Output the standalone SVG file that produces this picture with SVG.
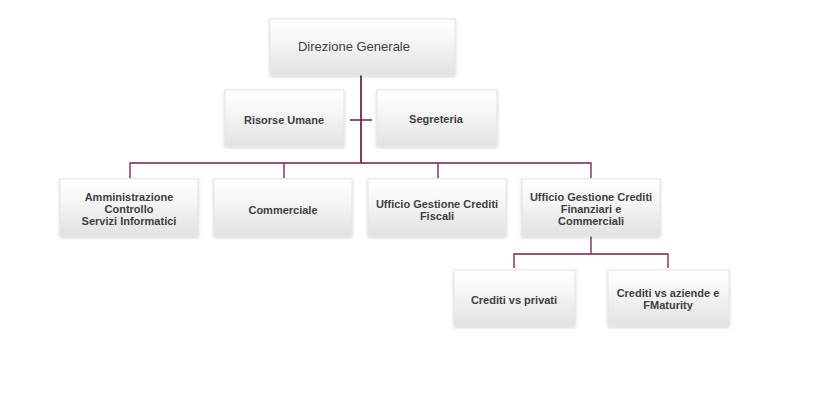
<svg xmlns="http://www.w3.org/2000/svg" width="830" height="411" viewBox="0 0 830 411">
<defs>
<linearGradient id="g" x1="0" y1="0" x2="0" y2="1"><stop offset="0" stop-color="#ffffff"/><stop offset="0.35" stop-color="#f7f7f7"/><stop offset="1" stop-color="#e2e2e2"/></linearGradient>
<filter id="s" x="-10%" y="-10%" width="120%" height="130%"><feDropShadow dx="0" dy="1" stdDeviation="1.5" flood-color="#000" flood-opacity="0.2"/></filter>
</defs>
<style>
.b{fill:url(#g);stroke:#e4e4e4;stroke-width:1;filter:url(#s)}
.t{font-family:"Liberation Sans",Arial,sans-serif;font-size:11px;font-weight:bold;fill:#404040;text-anchor:middle}
.c{stroke:#7a1c4c;stroke-width:1.3;fill:none}
</style>
<rect width="830" height="411" fill="#fff"/>
<g id="connectors">
<path class="c" d="M361 75V163M350 120H372M130 178V163H591V178M284 163V178M438 163V178M591 236V254M514 268V254H668V268" />
<path class="c" d="M361 75V163" stroke-width="2"/>
</g>
<g id="n1"><rect class="b" x="270" y="19" width="185" height="56"/><text x="354" y="51" class="t" style="font-weight:normal;font-size:13px">Direzione Generale</text></g>
<g id="n2"><rect class="b" x="225" y="90" width="119" height="56"/><text x="284" y="124" class="t">Risorse Umane</text></g>
<g id="n3"><rect class="b" x="377" y="90" width="120" height="56"/><text x="436" y="123" class="t">Segreteria</text></g>
<g id="n4"><rect class="b" x="60" y="179" width="138" height="57"/><text x="129" y="201" class="t">Amministrazione</text><text x="129" y="213" class="t">Controllo</text><text x="129" y="225" class="t">Servizi Informatici</text></g>
<g id="n5"><rect class="b" x="214" y="179" width="138" height="57"/><text x="283" y="214" class="t">Commerciale</text></g>
<g id="n6"><rect class="b" x="368" y="179" width="138" height="57"/><text x="437" y="208" class="t">Ufficio Gestione Crediti</text><text x="437" y="220" class="t">Fiscali</text></g>
<g id="n7"><rect class="b" x="522" y="179" width="138" height="57"/><text x="591" y="201" class="t">Ufficio Gestione Crediti</text><text x="591" y="213" class="t">Finanziari e</text><text x="591" y="225" class="t">Commerciali</text></g>
<g id="n8"><rect class="b" x="454" y="270" width="121" height="56"/><text x="514" y="304" class="t">Crediti vs privati</text></g>
<g id="n9"><rect class="b" x="608" y="270" width="121" height="56"/><text x="668" y="297" class="t">Crediti vs aziende e</text><text x="668" y="309" class="t">FMaturity</text></g>
</svg>
